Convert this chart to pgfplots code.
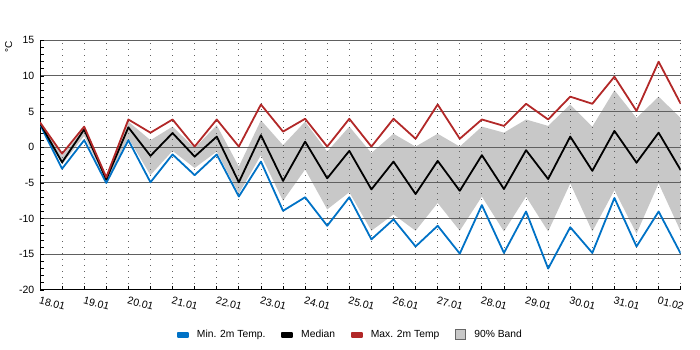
\documentclass[border=0pt]{standalone}
\usepackage{fontspec}
\setmainfont{Liberation Sans}
\usepackage{pgfplots}
\usepackage{pgfplotstable}
\pgfplotsset{compat=1.18}
\usepgfplotslibrary{fillbetween}
\definecolor{mblue}{RGB}{0,114,198}
\definecolor{mred}{RGB}{178,40,40}
\definecolor{bandgray}{RGB}{200,200,200}
\definecolor{gridgray}{RGB}{96,96,96}

\pgfplotstableread{
i  min    med    max   lo     hi
0  3.2    3.4    3.5   3.2    3.5
1  -3.0   -2.1   -0.9  -2.4   -1.2
2  1.0    2.5    2.9   1.6    2.7
3  -5.0   -4.5   -4.2  -4.8   -4.3
4  1.0    2.8    3.9   1.3    3.6
5  -4.9   -1.2   2.05  -3.9   1.0
6  -1.0   2.0    3.9   -0.5   2.9
7  -3.9   -1.3   0.1   -2.9   -0.1
8  -1.0   1.5    3.9   -0.6   3.1
9  -6.9   -4.9   0.1   -6.5   -2.7
10 -2.0   1.7    6.0   -1.1   3.8
11 -8.9   -4.7   2.2   -7.5   0.3
12 -7.0   0.8    4.0   -3.1   3.6
13 -11.0  -4.35  0.1   -8.7   -0.6
14 -7.0   -0.5   4.0   -6.3   2.9
15 -12.9  -5.9   0.1   -11.7  -0.8
16 -10.1  -2.0   4.0   -9.4   1.9
17 -13.9  -6.55  1.2   -11.7  0.1
18 -11.0  -1.9   6.0   -7.8   1.9
19 -14.9  -6.1   1.2   -11.7  0.1
20 -8.1   -1.1   3.9   -6.9   2.9
21 -14.8  -5.85  3.0   -11.8  2.05
22 -9.0   -0.4   6.1   -6.9   3.9
23 -17.0  -4.45  3.9   -11.8  3.0
24 -11.2  1.5    7.1   -5.05  6.0
25 -14.8  -3.3   6.1   -11.8  2.9
26 -7.1   2.3    9.9   -6.0   8.0
27 -13.9  -2.15  5.1   -12.1  4.1
28 -9.0   2.05   12.0  -5.05  7.1
29 -14.9  -3.2   6.1   -11.8  4.1
}\data

\begin{document}
\begin{tikzpicture}
\begin{axis}[
  at={(40pt,60pt)}, anchor=south west,
  scale only axis, width=640.7pt, height=249.7pt,
  set layers,
  xmin=0, xmax=29, ymin=-20, ymax=15,
  axis x line*=bottom, axis y line*=left,
  axis line style={black, line width=1pt},
  tick align=inside,
  major tick length=4pt, minor tick length=4pt,
  tick style={black, line width=0.8pt},
  xtick={0,...,29},
  xticklabels={18.01,,19.01,,20.01,,21.01,,22.01,,23.01,,24.01,,25.01,,26.01,,27.01,,28.01,,29.01,,30.01,,31.01,,01.02,},
  ytick={-20,-15,...,15},
  minor y tick num=4,
  xmajorgrids, ymajorgrids,
  x grid style={gridgray, line width=0.8pt, dash pattern=on 0.8pt off 5.2pt},
  y grid style={gridgray, line width=1pt},
  ticklabel style={font=\fontsize{10.5}{12}\selectfont},
  /pgf/number format/assume math mode=true,
  xticklabel style={rotate=-15, anchor=north west, inner sep=0pt, yshift=-6pt, xshift=2pt},
  yticklabel style={anchor=east, inner sep=0pt, xshift=-5.5pt},
  ylabel={°C},
  ylabel style={at={(axis description cs:-0.049,0.973)}, anchor=center, font=\fontsize{10}{12}\selectfont},
  legend columns=4,
  legend style={at={(axis description cs:0.4846,-0.18)}, anchor=center, draw=none, fill=none,
    font=\fontsize{10.3}{12}\selectfont,
    /tikz/every odd column/.append style={column sep=6pt},
    /tikz/every even column/.append style={column sep=14pt}},
]
\addplot[draw=none, name path=hi, forget plot] table[x=i, y=hi]{\data};
\addplot[draw=none, name path=lo, forget plot] table[x=i, y=lo]{\data};
\addplot[bandgray, forget plot] fill between[of=hi and lo, on layer=axis background];

\addplot[mblue, line width=1.8pt, line join=round,
  legend image code/.code={\fill[mblue] (0pt,-2pt) rectangle (10pt,2pt);}]
  table[x=i, y=min]{\data};
\addlegendentry{Min. 2m Temp.}
\addplot[black, line width=1.8pt, line join=round,
  legend image code/.code={\fill[black] (0pt,-2pt) rectangle (10pt,2pt);}]
  table[x=i, y=med]{\data};
\addlegendentry{Median}
\addplot[mred, line width=1.8pt, line join=round,
  legend image code/.code={\fill[mred] (0pt,-2pt) rectangle (10pt,2pt);}]
  table[x=i, y=max]{\data};
\addlegendentry{Max. 2m Temp}
\addlegendimage{legend image code/.code={\filldraw[fill=bandgray, draw=black!60, line width=1pt] (0.5pt,-5pt) rectangle (10.5pt,5pt);}}
\addlegendentry{90\% Band}
\end{axis}
\pgfresetboundingbox
\useasboundingbox (0pt,0pt) rectangle (700pt,350pt);
\end{tikzpicture}
\end{document}
